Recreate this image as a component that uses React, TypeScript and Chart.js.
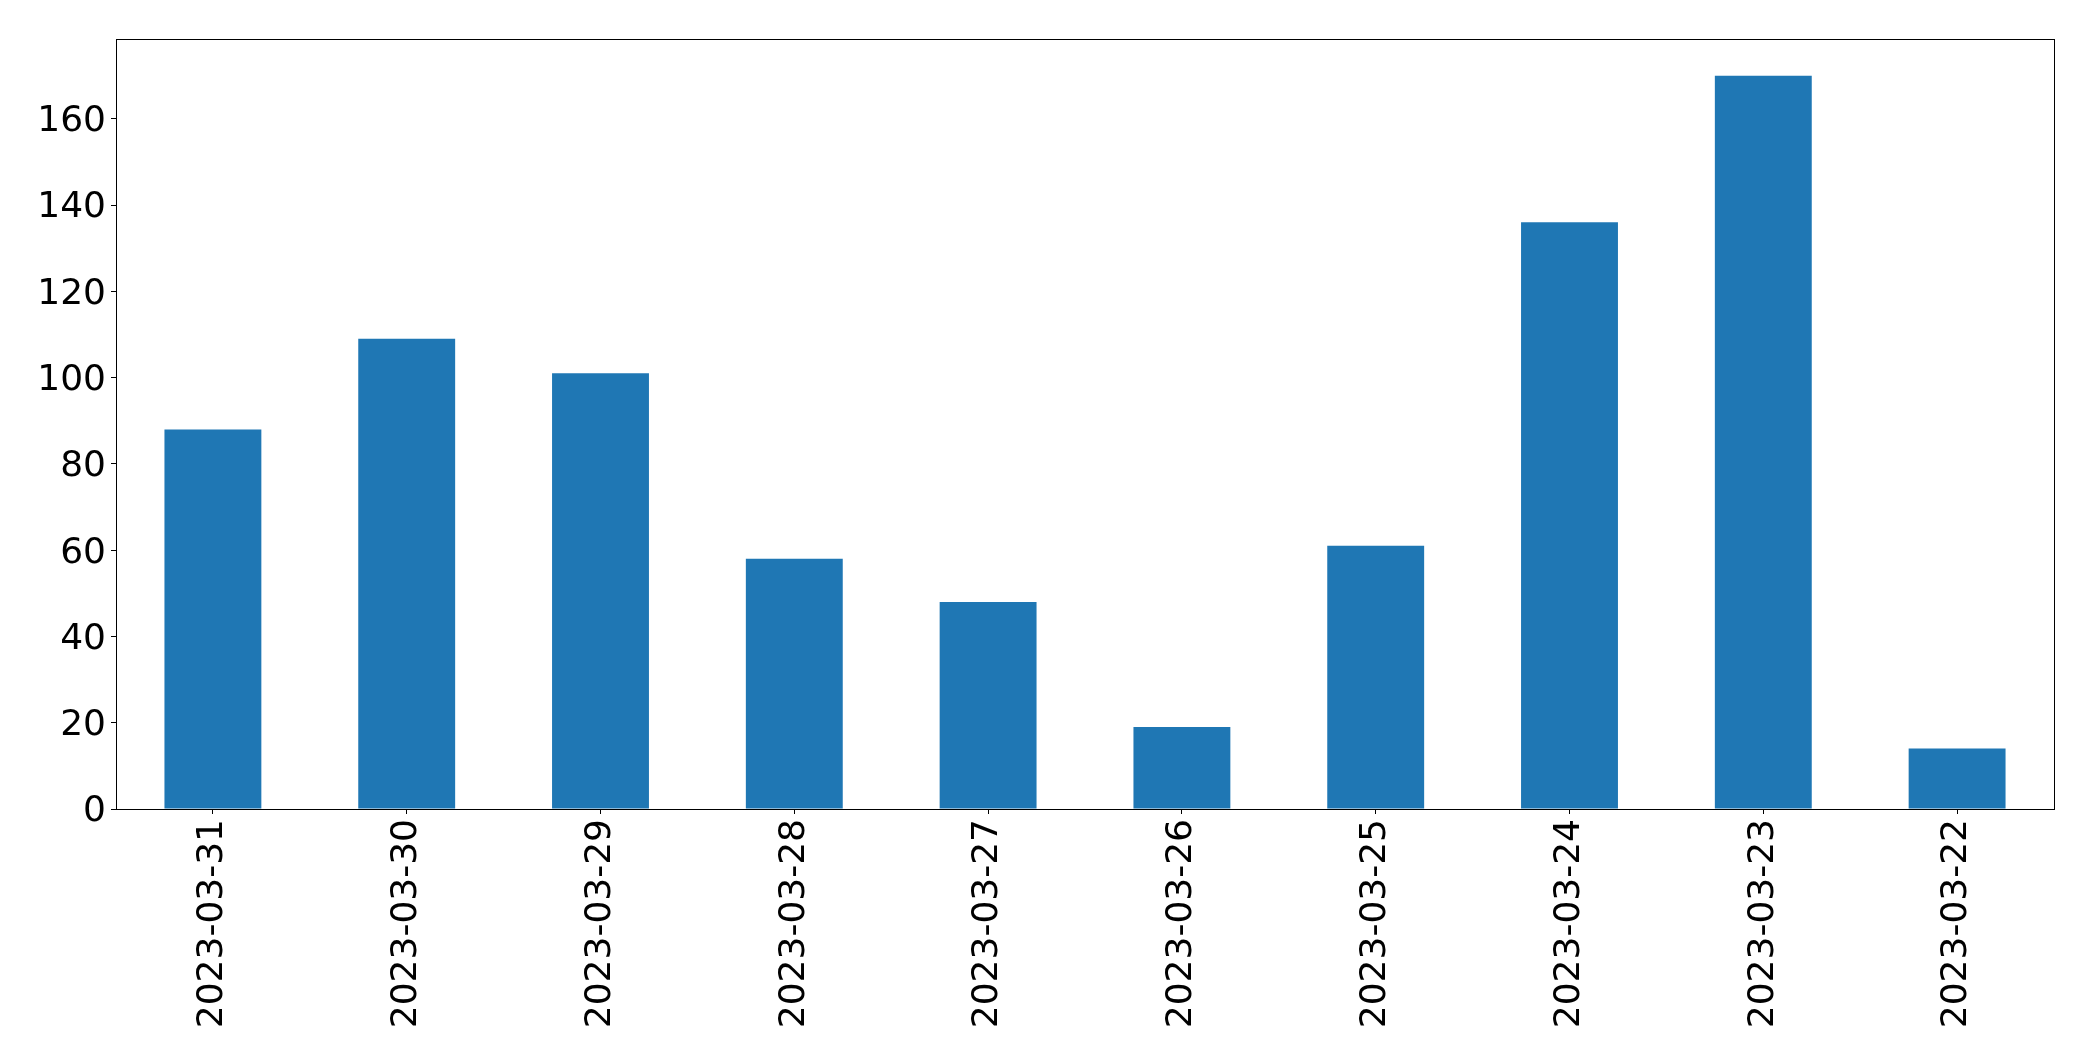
import React, { useEffect, useRef } from "react";
import { Chart, registerables } from "chart.js";

Chart.register(...registerables);

const categories: string[] = [
  "2023-03-31",
  "2023-03-30",
  "2023-03-29",
  "2023-03-28",
  "2023-03-27",
  "2023-03-26",
  "2023-03-25",
  "2023-03-24",
  "2023-03-23",
  "2023-03-22",
];
const counts: number[] = [88, 109, 101, 58, 48, 19, 61, 136, 170, 14];
const yTicks: number[] = [0, 20, 40, 60, 80, 100, 120, 140, 160];

const W = 2093;
const H = 1061;
const PLOT_LEFT = 116;
const PLOT_RIGHT = 2054;
const PLOT_TOP = 39;
const PLOT_BOTTOM = 809;

const frame = {
  id: "frame",
  afterDraw(chart: any) {
    const { ctx, chartArea } = chart;
    ctx.save();
    ctx.strokeStyle = "#000";
    ctx.lineWidth = 1;
    ctx.strokeRect(
      Math.round(chartArea.left) + 0.5,
      Math.round(chartArea.top) + 0.5,
      Math.round(chartArea.right - chartArea.left),
      Math.round(chartArea.bottom - chartArea.top)
    );
    ctx.restore();
  },
};

export default function App() {
  const ref = useRef<HTMLCanvasElement | null>(null);
  useEffect(() => {
    document.body.style.margin = "0";
    const canvas = ref.current;
    if (!canvas) return;
    const font = { family: "'DejaVu Sans', sans-serif", size: 36 };
    const chart = new Chart(canvas, {
      type: "bar",
      data: {
        labels: categories,
        datasets: [
          {
            data: counts,
            backgroundColor: "#1f77b4",
            borderWidth: 0,
            barPercentage: 0.5,
            categoryPercentage: 1,
          },
        ],
      },
      options: {
        responsive: false,
        animation: false,
        maintainAspectRatio: false,
        layout: {
          padding: { left: 0, top: PLOT_TOP, right: W - PLOT_RIGHT, bottom: 0 },
        },
        plugins: {
          legend: { display: false },
          tooltip: { enabled: false },
        },
        scales: {
          x: {
            offset: true,
            grid: {
              offset: false,
              drawOnChartArea: false,
              drawTicks: true,
              tickLength: 5,
              tickColor: "#000",
            },
            border: { display: true, color: "#000", width: 1 },
            ticks: {
              color: "#000",
              font,
              minRotation: 90,
              maxRotation: 90,
              padding: 5,
              autoSkip: false,
            },
            afterFit(scale: any) {
              scale.height = H - PLOT_BOTTOM;
            },
          },
          y: {
            min: 0,
            max: 178.5,
            afterBuildTicks(scale: any) {
              scale.ticks = yTicks.map((v) => ({ value: v }));
            },
            grid: {
              drawOnChartArea: false,
              drawTicks: true,
              tickLength: 5,
              tickColor: "#000",
            },
            border: { display: true, color: "#000", width: 1 },
            ticks: {
              color: "#000",
              font,
              padding: 5,
              labelOffset: 3,
            },
            afterFit(scale: any) {
              scale.width = PLOT_LEFT;
            },
          },
        },
      },
      plugins: [frame],
    });
    return () => chart.destroy();
  }, []);
  return (
    <div style={{ width: W, height: H, background: "#fff" }}>
      <canvas ref={ref} width={W} height={H} style={{ display: "block" }} />
    </div>
  );
}
